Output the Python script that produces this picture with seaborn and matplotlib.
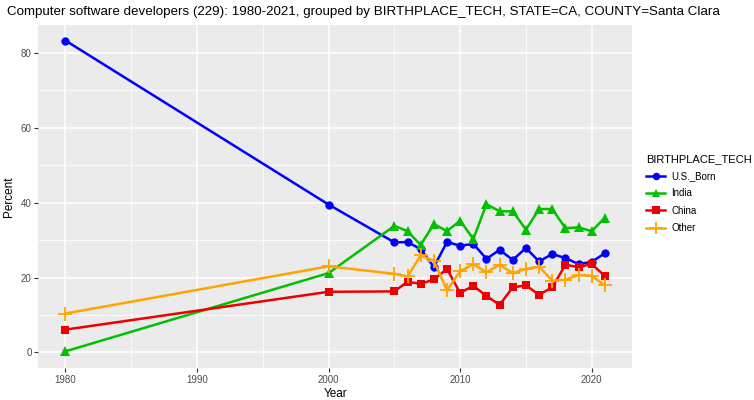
import numpy as np
import pandas as pd
import matplotlib
matplotlib.use("Agg")
import matplotlib.pyplot as plt
import seaborn as sns
from matplotlib.lines import Line2D

years = [1980, 2000, 2005, 2006, 2007, 2008, 2009, 2010, 2011, 2012, 2013,
         2014, 2015, 2016, 2017, 2018, 2019, 2020, 2021]
us_born = [83.3, 39.5, 29.4, 29.5, 27.6, 22.8, 29.5, 28.5, 29.0, 25.0, 27.4,
           24.7, 27.9, 24.3, 26.3, 25.2, 23.6, 24.2, 26.5]
india = [0.3, 21.2, 33.8, 32.4, 28.7, 34.3, 32.4, 35.2, 30.3, 39.6, 37.7,
         37.7, 32.8, 38.3, 38.3, 33.2, 33.4, 32.4, 36.0]
china = [6.1, 16.2, 16.3, 18.9, 18.3, 19.5, 22.3, 15.9, 17.8, 15.1, 12.7,
         17.4, 17.9, 15.4, 17.4, 23.4, 22.8, 23.6, 20.4]
other = [10.4, 23.0, 21.0, 20.3, 25.9, 24.5, 16.6, 21.7, 23.6, 21.4, 23.4,
         21.2, 22.3, 22.9, 19.2, 19.4, 20.7, 20.5, 17.9]

groups = ["U.S._Born", "India", "China", "Other"]
colors = {"U.S._Born": "#0000FF", "India": "#00C000", "China": "#EE0000", "Other": "#FFA500"}
markers = {"U.S._Born": "o", "India": "^", "China": "s", "Other": "+"}
msizes = {"U.S._Born": 6, "India": 6.5, "China": 6, "Other": 10}

df = pd.concat([
    pd.DataFrame({"Year": years, "Percent": vals, "BIRTHPLACE_TECH": g})
    for g, vals in zip(groups, [us_born, india, china, other])
])

plt.rcParams['font.family'] = ['Liberation Sans', 'DejaVu Sans']
fig = plt.figure(figsize=(7.54, 4.0), dpi=100)
ax = fig.add_axes([0.051, 0.08, 0.787, 0.8575])
ax.set_facecolor("#EBEBEB")

for g in groups:
    sub = df[df["BIRTHPLACE_TECH"] == g]
    sns.lineplot(data=sub, x="Year", y="Percent", ax=ax, color=colors[g],
                 marker=markers[g], markersize=msizes[g], linewidth=1.8,
                 markeredgewidth=1.3 if g == "Other" else 0,
                 markeredgecolor=colors[g], legend=False, zorder=3)

ax.set_xlim(1977.95, 2023.05)
ax.set_ylim(-4.15, 87.45)
ax.set_xticks([1980, 1990, 2000, 2010, 2020])
ax.set_yticks([0, 20, 40, 60, 80])
ax.set_xticks([1985, 1995, 2005, 2015], minor=True)
ax.set_yticks([10, 30, 50, 70], minor=True)
ax.grid(which="major", color="white", linewidth=1.1, zorder=0)
ax.grid(which="minor", color="white", linewidth=0.55, zorder=0)
ax.set_axisbelow(True)
for s in ax.spines.values():
    s.set_visible(False)
ax.tick_params(which="major", length=3, color="#333333", labelsize=7, labelcolor="#4D4D4D", pad=2)
ax.tick_params(which="minor", length=0)
ax.set_xlabel("Year", fontsize=8.5, labelpad=2)
ax.set_ylabel("Percent", fontsize=8.5)
ax.yaxis.set_label_coords(-0.040, 0.5)

fig.text(0.009, 0.97, "Computer software developers (229): 1980-2021, grouped by BIRTHPLACE_TECH, STATE=CA, COUNTY=Santa Clara",
         fontsize=9.6, ha="left", va="center")

handles = [Line2D([0], [0], color=colors[g], marker=markers[g], markersize=msizes[g] * 0.9,
                  linewidth=1.8, markeredgewidth=1.3 if g == "Other" else 0,
                  markeredgecolor=colors[g]) for g in groups]
leg = fig.legend(handles, groups, title="BIRTHPLACE_TECH", loc="upper left",
                 bbox_to_anchor=(0.852, 0.625), frameon=False, fontsize=7,
                 title_fontsize=8, handlelength=1.9, labelspacing=0.75,
                 borderaxespad=0, handletextpad=0.7)
leg._legend_box.align = "left"

fig.savefig("out.png", dpi=100)
